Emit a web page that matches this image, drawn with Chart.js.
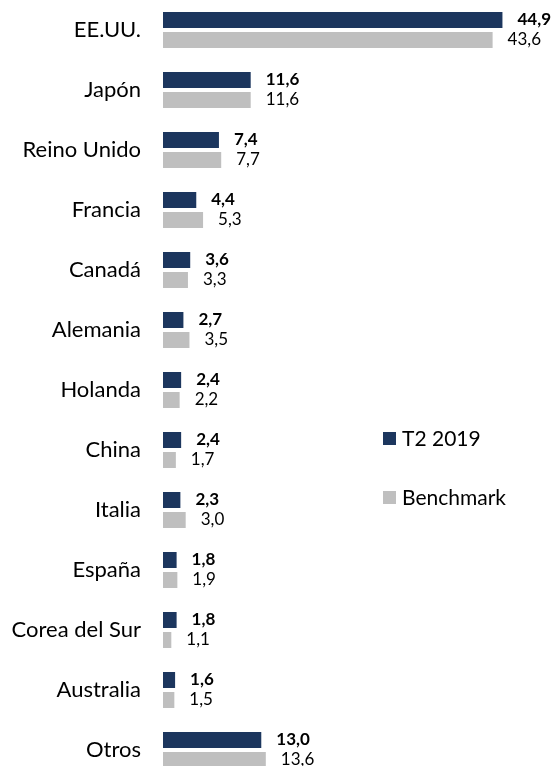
<!DOCTYPE html>
<html>
<head>
<meta charset="utf-8">
<script src="https://cdn.jsdelivr.net/npm/chart.js@4.4.1/dist/chart.umd.min.js"></script>
<style>
  html, body { margin: 0; padding: 0; background: #fff; }
  #wrap { position: relative; width: 554px; height: 766px; }
  #legend { position: absolute; left: 383px; top: 425px; font-family: Lato, sans-serif; font-size: 21px; color: #000; }
  #legend div { height: 59px; display: flex; align-items: flex-start; }
  #legend span.box { display: inline-block; width: 13px; height: 13px; margin: 7px 6px 0 0; }
</style>
</head>
<body>
<div id="wrap">
  <canvas id="myChart" width="554" height="766"></canvas>
  <div id="legend"></div>
</div>
<script>
const paises = ['EE.UU.', 'Japón', 'Reino Unido', 'Francia', 'Canadá', 'Alemania', 'Holanda', 'China', 'Italia', 'España', 'Corea del Sur', 'Australia', 'Otros'];
const t2019 = [44.9, 11.6, 7.4, 4.4, 3.6, 2.7, 2.4, 2.4, 2.3, 1.8, 1.8, 1.6, 13.0];
const benchmark = [43.6, 11.6, 7.7, 5.3, 3.3, 3.5, 2.2, 1.7, 3.0, 1.9, 1.1, 1.5, 13.6];
const colorT2 = '#1c365e';
const colorBench = '#bfbfbf';

const ctx = document.getElementById('myChart');

// etichette dei valori a destra delle barre
const etichette = {
    id: 'etichette',
    afterDatasetsDraw(chart) {
        const c = chart.ctx;
        c.save();
        c.textBaseline = 'middle';
        c.textAlign = 'left';
        c.fillStyle = '#000';
        chart.data.datasets.forEach(function (ds, i) {
            const meta = chart.getDatasetMeta(i);
            c.font = (i == 0 ? 'bold ' : '') + '17px Lato, sans-serif';
            meta.data.forEach(function (bar, j) {
                c.fillText(ds.data[j].toFixed(1).replace('.', ','), bar.x + 15, bar.y);
            });
        });
        c.restore();
    }
};

const myChart = new Chart(ctx, {
    type: 'bar',
    data: {
        labels: paises,
        datasets: [{
            label: 'T2 2019',
            data: t2019,
            backgroundColor: colorT2,
            clip: false
        }, {
            label: 'Benchmark',
            data: benchmark,
            backgroundColor: colorBench,
            clip: false
        }]
    },
    options: {
        indexAxis: 'y',
        responsive: false,
        animation: false,
        categoryPercentage: 0.667,
        barPercentage: 0.8,
        layout: {
            padding: { top: 30, bottom: 16, right: 13, left: 0 }
        },
        plugins: {
            legend: { display: false },
            tooltip: { enabled: false }
        },
        scales: {
            x: {
                display: false,
                min: 0,
                max: 50
            },
            y: {
                offset: false,
                afterFit: function (s) {
                    s.width = 163;
                    s.paddingTop = 0;
                    s.paddingBottom = 0;
                },
                grid: { display: false, drawTicks: false },
                border: { display: false },
                ticks: {
                    padding: 22,
                    color: '#000',
                    font: { family: 'Lato', size: 22 }
                }
            }
        }
    },
    plugins: [etichette]
});

// legenda html
const leg = document.getElementById('legend');
myChart.data.datasets.forEach(function (ds) {
    const d = document.createElement('div');
    d.innerHTML = '<span class="box" style="background:' + ds.backgroundColor + '"></span>' + ds.label;
    leg.appendChild(d);
});
</script>
</body>
</html>
